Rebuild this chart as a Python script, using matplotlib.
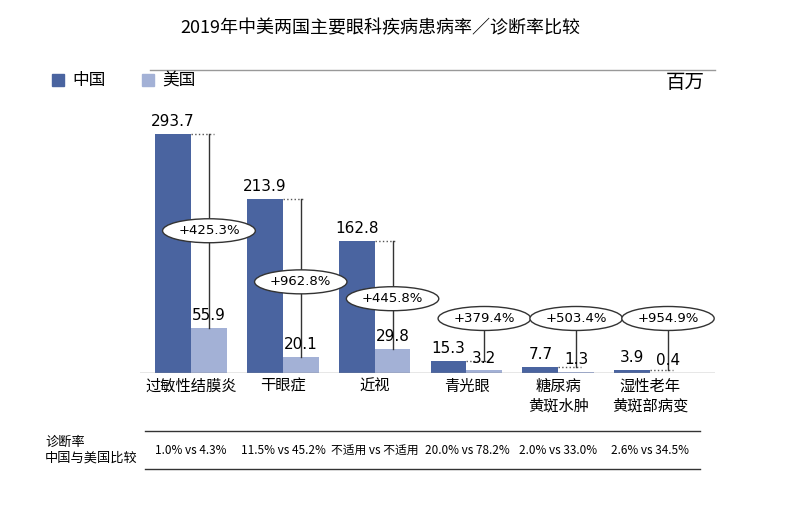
import matplotlib
matplotlib.use("Agg")
import matplotlib.pyplot as plt
from matplotlib.lines import Line2D
from matplotlib.patches import Rectangle

plt.rcParams['font.family'] = ['Noto Sans CJK SC', 'DejaVu Sans']

categories = ["过敏性结膜炎", "干眼症", "近视", "青光眼", "糖尿病\n黄斑水肿", "湿性老年\n黄斑部病变"]
china = [293.7, 213.9, 162.8, 15.3, 7.7, 3.9]
usa = [55.9, 20.1, 29.8, 3.2, 1.3, 0.4]
diffs = ["+425.3%", "+962.8%", "+445.8%", "+379.4%", "+503.4%", "+954.9%"]
diag = ["1.0% vs 4.3%", "11.5% vs 45.2%", "不适用 vs 不适用", "20.0% vs 78.2%", "2.0% vs 33.0%", "2.6% vs 34.5%"]

C_CN = "#4a64a0"
C_US = "#a3b1d6"
W, H = 808, 514
fig = plt.figure(figsize=(W/100, H/100), dpi=100)

def fx(px): return px / W
def fy(py): return 1 - py / H

ax = fig.add_axes([fx(140), fy(373), fx(715) - fx(140), fy(100) - fy(373)])
ymax = 293.7 * 273 / 239
ax.set_ylim(0, ymax)
ax.set_xlim(-0.556, 5.707)
ax.axis("off")
bw = 0.39
for i, (c, u) in enumerate(zip(china, usa)):
    ax.bar(i - bw/2, c, bw, color=C_CN)
    ax.bar(i + bw/2, u, bw, color=C_US)
    ax.text(i - bw/2, c + 6, f"{c}", ha="center", va="bottom", fontsize=11, family="DejaVu Sans")
    ax.text(i + bw/2, u + 6, f"{u}", ha="center", va="bottom", fontsize=11, family="DejaVu Sans")
    ax.plot([i, i + bw/2 + 0.05], [c, c], ls=":", color="#555", lw=1)
    if i < 3:
        ax.plot([i + bw/2, i + bw/2], [c, u], color="#333", lw=1)
        ly = (c + u) / 2 if i == 0 else (c + u) / 2 - 5
        ax.text(i + bw/2, ly, diffs[i], ha="center", va="center", fontsize=9.5,
                family="DejaVu Sans",
                bbox=dict(boxstyle="ellipse,pad=0.15", fc="white", ec="#333", lw=1))
    else:
        ax.plot([i + bw/2, i + bw/2], [c, 67], color="#333", lw=1)
        ax.text(i + bw/2, 67, diffs[i], ha="center", va="center", fontsize=9.5,
                family="DejaVu Sans",
                bbox=dict(boxstyle="ellipse,pad=0.15", fc="white", ec="#333", lw=1))
ax.axhline(0, color="#888", lw=1)
for i, cat in enumerate(categories):
    ax.text(i, -6, cat, ha="center", va="top", fontsize=11, linespacing=1.2)

fig.text(fx(380), fy(28), "2019年中美两国主要眼科疾病患病率／诊断率比较", ha="center", va="center", fontsize=13)
fig.add_artist(Line2D([fx(150), fx(715)], [fy(70), fy(70)], color="#999", lw=1))
fig.add_artist(Rectangle((fx(52), fy(86)), 12/W, 12/H, color=C_CN))
fig.text(fx(72), fy(80), "中国", va="center", fontsize=12)
fig.add_artist(Rectangle((fx(142), fy(86)), 12/W, 12/H, color=C_US))
fig.text(fx(162), fy(80), "美国", va="center", fontsize=12)
fig.text(fx(705), fy(83), "百万", ha="right", va="center", fontsize=14, style="italic")

fig.add_artist(Line2D([fx(145), fx(700)], [fy(431), fy(431)], color="#333", lw=1))
fig.add_artist(Line2D([fx(145), fx(700)], [fy(469), fy(469)], color="#333", lw=1))
fig.text(fx(45), fy(450), "诊断率\n中国与美国比较", va="center", fontsize=9.5, linespacing=1.3)
centers = [191, 283, 375, 467, 558, 650]
for cx, d in zip(centers, diag):
    st = "italic" if "不适用" in d else "normal"
    fig.text(fx(cx), fy(450), d, ha="center", va="center", fontsize=8.5, style=st)

fig.savefig("out.png", dpi=100)
